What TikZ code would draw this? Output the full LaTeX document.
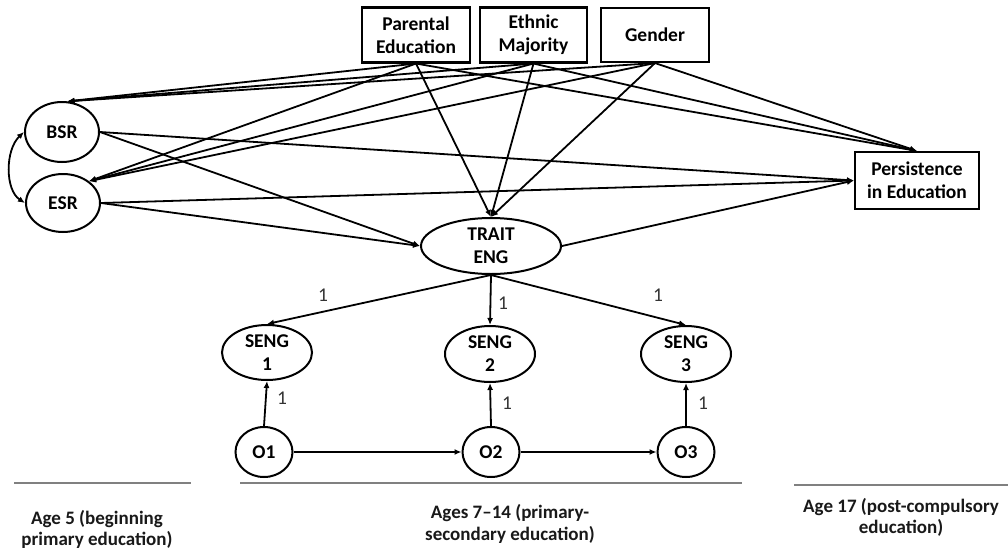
\documentclass[tikz,border=0pt]{standalone}
\usepackage{fontspec}
\setmainfont{Carlito}
\usetikzlibrary{shapes.geometric,arrows.meta,calc}
\begin{document}
\begin{tikzpicture}[x=1pt,y=-1pt,
  boxn/.style={draw,line width=2.1pt,align=center,inner sep=0pt,font=\bfseries\fontsize{19.5}{23}\selectfont},
  lat/.style={draw,ellipse,line width=2pt,inner sep=0pt},
  lbl/.style={align=center,inner sep=0pt,font=\bfseries\fontsize{19.5}{23}\selectfont},
  conn/.style={line width=1.8pt,-{Latex[length=7pt,width=6pt]}},
  biconn/.style={line width=1.8pt,{Latex[length=7pt,width=6pt]}-{Latex[length=7pt,width=6pt]}},
  one/.style={inner sep=0pt,text=black!80,font=\fontsize{19.5}{23}\selectfont},
  age/.style={align=center,inner sep=0pt,text=black!90,font=\bfseries\fontsize{19}{21.5}\selectfont},
  tline/.style={draw=black!50,line width=1.4pt}]
\useasboundingbox (0,0) rectangle (1008,554);

% observed boxes
\node[boxn,minimum width=108pt,minimum height=55pt] (par) at (416,35) {Parental\\Education};
\node[boxn,minimum width=107pt,minimum height=55pt] (eth) at (533.5,35) {Ethnic\\Majority};
\node[boxn,minimum width=108pt,minimum height=54pt] (gen) at (655,35) {Gender};
\node[boxn,minimum width=124pt,minimum height=57pt] (pers) at (917,180.5) {Persistence\\in Education};

% latent / ellipses
\node[lat,minimum width=74pt,minimum height=60pt] (bsr) at (62,132) {};
\node[lbl] (bsrt) at (bsr) {BSR};
\node[lat,minimum width=74pt,minimum height=58pt] (esr) at (63,203) {};
\node[lbl] (esrt) at (esr) {ESR};
\node[lat,minimum width=140pt,minimum height=56pt] (trait) at (491,246) {};
\node[lbl] (traitt) at (trait) {TRAIT\\ENG};
\node[lat,minimum width=90pt,minimum height=55pt] (s1) at (267,352.5) {};
\node[lbl] (s1t) at (s1) {SENG\\1};
\node[lat,minimum width=90pt,minimum height=56pt] (s2) at (490,354) {};
\node[lbl] (s2t) at (s2) {SENG\\2};
\node[lat,minimum width=90pt,minimum height=56pt] (s3) at (686,354) {};
\node[lbl] (s3t) at (s3) {SENG\\3};
\node[lat,minimum width=57pt,minimum height=50pt] (o1) at (264,452) {};
\node[lbl] (o1t) at (o1) {O1};
\node[lat,minimum width=57pt,minimum height=50pt] (o2) at (491,452) {};
\node[lbl] (o2t) at (o2) {O2};
\node[lat,minimum width=57pt,minimum height=50pt] (o3) at (686,452) {};
\node[lbl] (o3t) at (o3) {O3};

% paths from covariates
\foreach \s in {par,eth,gen} {
  \draw[conn] (\s.south) -- (bsr.80);
  \draw[conn] (\s.south) -- (esr.40);
  \draw[conn] (\s.south) -- (trait.north);
  \draw[conn] (\s.south) -- (pers.north);
}
% self-regulation paths
\draw[conn] (bsr.east) -- (trait.west);
\draw[conn] (esr.east) -- (trait.west);
\draw[conn] (bsr.east) -- (pers.west);
\draw[conn] (esr.east) -- (pers.west);
\draw[conn] (trait.east) -- (pers.west);
\draw[biconn] (bsr.west) .. controls (5,150) and (5,190) .. (esr.west);

% measurement part
\draw[conn] (trait.south) -- (s1.north);
\draw[conn] (trait.south) -- (s2.north);
\draw[conn] (trait.south) -- (s3.north);
\draw[conn] (o1.north) -- (s1.south);
\draw[conn] (o2.north) -- (s2.south);
\draw[conn] (o3.north) -- (s3.south);
\draw[conn] (o1.east) -- (o2.west);
\draw[conn] (o2.east) -- (o3.west);

\node[one] (l1) at (323,295) {1};
\node[one] (l2) at (503,303) {1};
\node[one] (l3) at (658,295) {1};
\node[one] (l4) at (282,398) {1};
\node[one] (l5) at (507,403) {1};
\node[one] (l6) at (703,403) {1};

% timeline
\draw[tline] (14,483) -- (191,483);
\draw[tline] (240,483) -- (742,483);
\draw[tline] (794,485) -- (1008,485);
\node[age] (a1) at (97,529.5) {Age 5 (beginning\\primary education)};
\node[age] (a2) at (510,524) {Ages 7--14 (primary-\\secondary education)};
\node[age] (a3) at (901,517.5) {Age 17 (post-compulsory\\education)};
\end{tikzpicture}
\end{document}
